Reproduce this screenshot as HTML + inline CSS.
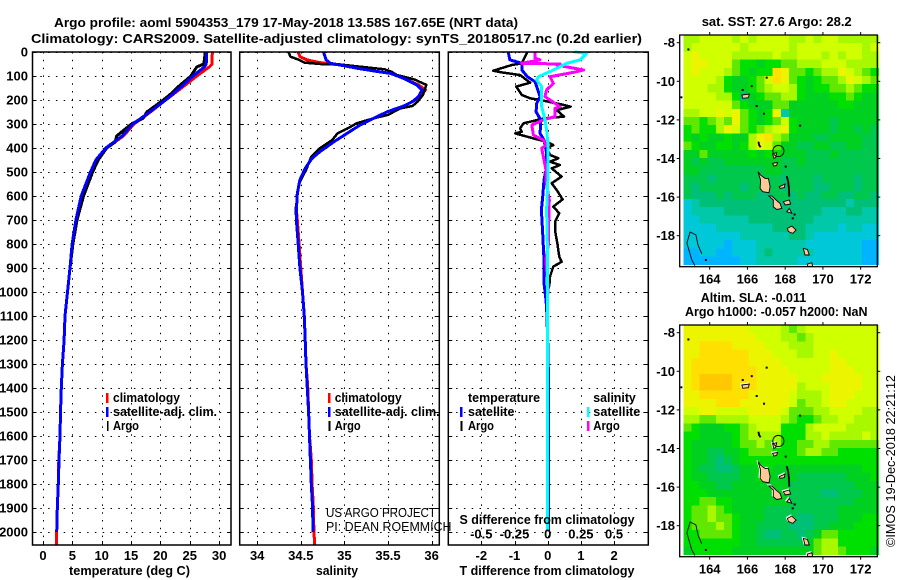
<!DOCTYPE html>
<html>
<head>
<meta charset="utf-8">
<title>Argo profile</title>
<style>
html,body{margin:0;padding:0;background:#fff;}
svg{display:block;}
text{font-family:"Liberation Sans",sans-serif;fill:#000;}
.b{font-weight:bold;font-size:13px;}
.t{font-weight:bold;font-size:13px;}
.thin{font-weight:normal;font-size:12.5px;}
</style>
</head>
<body>
<svg id="chart" xmlns="http://www.w3.org/2000/svg" width="900" height="580" viewBox="0 0 900 580">
<rect x="0" y="0" width="900" height="580" fill="#fff"/>
<g id="map1cells" shape-rendering="crispEdges"></g>
<g id="map2cells" shape-rendering="crispEdges"></g>
<g id="map1geo"></g>
<g id="map2geo"></g>
<g id="grids"></g>
<g id="series" shape-rendering="crispEdges"></g>
<g id="axes"></g>

<text class="t" x="54" y="27" textLength="464" lengthAdjust="spacingAndGlyphs">Argo profile: aoml 5904353_179 17-May-2018 13.58S 167.65E (NRT data)</text>
<text class="t" x="31" y="43" textLength="611" lengthAdjust="spacingAndGlyphs">Climatology: CARS2009. Satellite-adjusted climatology: synTS_20180517.nc (0.2d earlier)</text>

<text class="b" x="69" y="575" textLength="121" lengthAdjust="spacingAndGlyphs">temperature (deg C)</text>
<text class="b" x="316" y="575" textLength="42" lengthAdjust="spacingAndGlyphs">salinity</text>
<text class="b" x="459.5" y="575" textLength="175" lengthAdjust="spacingAndGlyphs">T difference from climatology</text>
<text class="b" x="459.5" y="524" textLength="175" lengthAdjust="spacingAndGlyphs">S difference from climatology</text>

<g>
<rect x="106" y="393" width="2.5" height="10" fill="#f00"/>
<rect x="106" y="407" width="2.5" height="10" fill="#00f"/>
<rect x="107" y="421" width="1.5" height="10" fill="#000"/>
<text class="b" x="113" y="402" textLength="67" lengthAdjust="spacingAndGlyphs">climatology</text>
<text class="b" x="113" y="416" textLength="104" lengthAdjust="spacingAndGlyphs">satellite-adj. clim.</text>
<text class="b" x="113" y="430" textLength="26" lengthAdjust="spacingAndGlyphs">Argo</text>
</g>
<g>
<rect x="328" y="393" width="2.5" height="10" fill="#f00"/>
<rect x="328" y="407" width="2.5" height="10" fill="#00f"/>
<rect x="328.5" y="421" width="2" height="10" fill="#000"/>
<text class="b" x="334.7" y="402" textLength="67" lengthAdjust="spacingAndGlyphs">climatology</text>
<text class="b" x="334.7" y="416" textLength="105" lengthAdjust="spacingAndGlyphs">satellite-adj. clim.</text>
<text class="b" x="334.7" y="430" textLength="26" lengthAdjust="spacingAndGlyphs">Argo</text>
</g>
<g>
<text class="b" x="468" y="402" textLength="72" lengthAdjust="spacingAndGlyphs">temperature</text>
<rect x="460" y="407" width="2.5" height="10" fill="#00f"/>
<text class="b" x="468" y="416" textLength="46.5" lengthAdjust="spacingAndGlyphs">satellite</text>
<rect x="460.5" y="421" width="2" height="10" fill="#000"/>
<text class="b" x="468" y="430" textLength="26" lengthAdjust="spacingAndGlyphs">Argo</text>
<text class="b" x="593.3" y="402" textLength="42.5" lengthAdjust="spacingAndGlyphs">salinity</text>
<rect x="587" y="407" width="2.5" height="10" fill="#0ff"/>
<text class="b" x="593.3" y="416" textLength="47" lengthAdjust="spacingAndGlyphs">satellite</text>
<rect x="587" y="421" width="2.5" height="10" fill="#f0f"/>
<text class="b" x="593.3" y="430" textLength="26.5" lengthAdjust="spacingAndGlyphs">Argo</text>
</g>

<text class="thin" x="326" y="517" textLength="110" lengthAdjust="spacingAndGlyphs">US ARGO PROJECT</text>
<text class="thin" x="326" y="531" textLength="125.5" lengthAdjust="spacingAndGlyphs">PI: DEAN ROEMMICH</text>

<text class="t" x="701.7" y="26" textLength="150" lengthAdjust="spacingAndGlyphs">sat. SST: 27.6 Argo: 28.2</text>
<text class="t" x="700.7" y="302" textLength="105.5" lengthAdjust="spacingAndGlyphs">Altim. SLA: -0.011</text>
<text class="t" x="685" y="316" textLength="182.5" lengthAdjust="spacingAndGlyphs">Argo h1000: -0.057 h2000: NaN</text>
<text class="thin" font-size="13" transform="translate(895,547) rotate(-90)" textLength="172" lengthAdjust="spacingAndGlyphs">©IMOS 19-Dec-2018 22:21:12</text>
</svg>

<script>
/* ---------- profile data ---------- */
const depthTicks = [0,100,200,300,400,500,600,700,800,900,1000,1100,1200,1300,1400,1500,1600,1700,1800,1900,2000];
const tempTicks = [0,5,10,15,20,25,30];
const salTicks = [34,34.5,35,35.5,36];
const tDiffTicks = [-2,-1,0,1,2];
const sDiffTicks = [-0.5,-0.25,0,0.25,0.5];

const tempDepths = [0,50,60,100,150,200,250,300,350,400,450,500,600,700,800,900,1000,1100,1200,1300,1400,1500,1600,1700,1800,1900,2000,2055];
const tempClim = [28.85,28.8,28.45,26.2,23.6,20.9,18.3,15.5,13.7,10.8,9.0,8.1,6.5,5.6,5.0,4.6,4.17,3.75,3.6,3.3,3.12,2.98,2.9,2.7,2.6,2.44,2.33,2.33];
const tempSat = [27.9,27.8,27.6,25.55,23.3,20.9,18.2,15.3,13.5,10.7,9.0,8.1,6.5,5.6,4.95,4.6,4.17,3.75,3.6,3.3,3.12,2.98,2.9,2.73,2.6,2.44,2.33];
const tempArgoDepths = [0,50,62,100,150,175,200,250,275,300,325,350,375,400,450,500,600,700,800,900,1000,1100,1200,1300,1400,1500,1600,1700,1800,1900,2000];
const tempArgo = [27.65,27.4,26.2,25.2,22.8,21.75,20.5,17.7,17.1,15.1,13.8,12.55,12.3,10.85,9.4,8.45,6.9,5.8,5.1,4.6,4.17,3.75,3.6,3.3,3.12,2.98,2.9,2.73,2.6,2.44,2.33];

const salClimDepths = [0,19,33,44,54,68,79,89,110,137,158,186,207,225,249,276,304,339,374,415,443,485,533,589,658,700,800,900,1000,1100,1200,1300,1400,1500,1600,1700,1800,1900,2000,2055];
const salClim = [34.47,34.49,34.57,34.72,34.95,35.15,35.34,35.53,35.68,35.85,35.93,35.87,35.78,35.68,35.49,35.34,35.18,35.03,34.88,34.72,34.63,34.55,34.49,34.46,34.45,34.46,34.48,34.5,34.52,34.54,34.55,34.56,34.58,34.59,34.6,34.62,34.63,34.645,34.65,34.66];
const salSatDepths = [0,33,47,54,68,79,89,110,137,158,186,207,225,249,276,304,339,374,415,443,485,533,589,658,700,800,900,1000,1100,1200,1300,1400,1500,1600,1700,1800,1900,2000];
const salSat = [34.76,34.79,34.84,34.95,35.15,35.34,35.53,35.68,35.83,35.89,35.85,35.78,35.68,35.49,35.34,35.18,35.03,34.88,34.72,34.63,34.55,34.49,34.46,34.45,34.45,34.47,34.49,34.52,34.54,34.55,34.56,34.575,34.59,34.6,34.61,34.62,34.635,34.64];
const salArgoDepths = [0,19,33,44,50,51,58,72,82,96,114,137,179,207,225,235,262,276,297,318,339,367,401,436,492,547,603,658,700,800,900,1000];
const salArgo = [34.36,34.38,34.48,34.54,34.72,34.92,35.1,35.46,35.54,35.6,35.8,35.94,35.9,35.84,35.78,35.64,35.5,35.34,35.14,35.04,34.92,34.86,34.72,34.62,34.56,34.48,34.46,34.44,34.45,34.47,34.49,34.52];

const tSatDepths = [0,33,47,75,103,124,186,214,249,283,339,367,422,492,533,603,658,756,867,964,1033,1075,1200,1400,2000];
const tSatDiff = [-1.19,-1.14,-0.78,-0.78,-0.61,-0.38,-0.23,-0.33,-0.35,-0.21,-0.23,-0.11,-0.03,-0.05,-0.11,-0.15,-0.19,-0.15,-0.11,-0.11,-0.05,-0.03,0,0.03,0.03];
const tArgoDepths = [0,33,47,54,78,85,96,128,144,179,193,200,217,228,242,269,276,297,318,332,339,360,374,388,401,429,443,457,471,485,519,547,575,614,644,672,707,742,797,853,874,894,936,971,1010,1100,2000];
const tArgoDiff = [-0.61,-0.73,-0.78,-1.08,-1.64,-1.39,-0.83,-0.53,-0.95,-0.78,-0.53,-0.23,0.37,0.69,0.27,0.49,-0.08,-0.73,-0.83,-0.78,-0.98,-0.43,-0.03,0.17,-0.03,0.07,0.32,0.07,0.37,0.12,0.42,0.12,0.27,0.45,0.17,0.35,0.22,0.22,0.29,0.35,0.42,0.17,0.07,0.05,-0.03,0,0];
const sSatDepths = [0,6,33,47,75,103,117,144,228,283,325,394,492,589,658,797,936,1075,2000];
const sSatDiff = [0.205,0.293,0.243,0.143,0.043,-0.07,-0.083,-0.045,-0.045,-0.02,-0.008,0.004,0.004,-0.003,-0.008,-0.003,-0.003,0,0];
const sArgoDepths = [0,26,33,47,50,54,75,85,103,131,158,186,214,228,235,269,283,304,346,367,388,401,436,492,533,617,728,797,867,964,1075,2000];
const sArgoDiff = [-0.096,-0.096,-0.058,-0.196,0.092,0.067,0.27,0.193,0.017,0.043,-0.008,-0.02,0.055,0.092,0.055,0.055,-0.033,-0.12,-0.108,-0.033,-0.008,-0.045,-0.033,-0.013,-0.014,0.012,0.007,0.007,-0.014,0.001,0,0];

/* ---------- map data (colour level per cell, hex digit) ---------- */
const lonTicks = [164,166,168,170,172];
const latTicks = [-8,-10,-12,-14,-16,-18];
const sstGrid = [
"889999898999988989988888",
"899999989999989999999989",
"9a9999888889889998989988",
"9aa999766566778889998888",
"9a999876566ba776788a9876",
"99998655679ba7656778a987",
"999886556789986566778766",
"999988635677886555667655",
"999999765557755555566555",
"8899a9a7656a255555555555",
"776787a76567965555455555",
"67668a976789a65555455454",
"656556558ab8755544555544",
"765566568a97554455445544",
"557555556566555444544444",
"545445555555445444444444",
"554444444455444444444444",
"444344444444344434444344",
"434444434444344433444344",
"433343444334434334433443",
"123333333333333333332333",
"122223333333333332223322",
"112222223333333322222222",
"111122222223333222212211",
"111111122222233211111111",
"111110111222222111111100",
"001100111232222211111100",
"000000011222221111111100"
];
const slaGrid = [
"aaaaaaaa9999878999999999",
"aaaaaaaaa999887899999999",
"aabbbbaaaa99988899999999",
"aabbbbbbaaa9998899a99999",
"abbbbbbbaaaa999999aa9999",
"abbbbbbbbaaaa99999aaa999",
"abccccbbbaaaaa999aaaaa99",
"abccccbbbaaaaa8999aaaa99",
"aabbbbbbaaaaa98889aaa999",
"aaaabbbaaaaaa97889aa9999",
"99aa9999aaaa977788999988",
"887788889999876678899888",
"765556678999666899998888",
"665555678888666889888898",
"655555677878667788777777",
"655445567776667887766666",
"655434566666666666666666",
"654433455665555555555566",
"655444455655554444445556",
"665544555555544444444555",
"666555555555544443344455",
"667766555555544444444555",
"677876555544444444455555",
"677877655544443344455566",
"677787655444433344555666",
"667777655433443457766666",
"666666655444444578866666",
"566666555555555578876665"
];
const levelColors = ["#00b4ff","#00c8d8","#00c8a8","#00c078","#00c84c","#00d020","#00e000","#60e800","#a8f800","#d0ff00","#ecf400","#ffe000","#ffc800"];

/* island outlines: lon, lat */
const islandLons = [
 [166.56,166.70,166.67,166.81,167.14,167.2,167.11,166.93,166.7],
 [167.13,167.37,167.37,167.55,167.82,167.73,167.52,167.29],
 [167.69,167.99,167.96,167.73],
 [167.9,168.22,168.29,168.0],
 [168.08,168.22,168.35],
 [168.12,168.35,168.58,168.4,168.17],
 [168.96,169.18,169.28,169.05],
 [169.18,169.41,169.46,169.18],
 [165.7,166.1,166.05,165.75],
 [167.33,167.55,167.5,167.4],
 [167.33,167.6,167.55,167.4]
];
const islandLats = [
 [-14.68,-15.12,-15.55,-15.72,-15.77,-15.46,-15.03,-15.03,-14.86],
 [-15.94,-16.15,-16.5,-16.64,-16.59,-16.33,-16.15,-15.94],
 [-15.46,-15.32,-15.51,-15.55],
 [-16.24,-16.15,-16.36,-16.41],
 [-16.76,-16.58,-16.84],
 [-17.62,-17.5,-17.71,-17.88,-17.79],
 [-18.66,-18.71,-19,-19],
 [-19.47,-19.4,-19.6,-19.6],
 [-10.71,-10.66,-10.85,-10.88],
 [-13.75,-13.7,-13.95,-14.0],
 [-14.25,-14.2,-14.35,-14.4]
];
const coastLons = [
 [163.58,163.38,163.27,162.96,162.79,163.05,163.22],
 [168.08,168.16,168.2,168.22],
 [166.58,166.62,166.7]
];
const coastLats = [
 [-18.94,-18.48,-17.96,-17.81,-18.38,-19.26,-19.55],
 [-14.91,-15.2,-15.6,-15.98],
 [-13.13,-13.3,-13.42]
];
const dotLons = [166.23,167.02,166.49,166.88,168.79,168.03,168.4,168.5,162.87,162.5,163.8,165.75];
const dotLats = [-10.25,-9.81,-11.28,-11.68,-12.3,-14.42,-17.1,-16.9,-8.35,-10.83,-19.26,-10.45];
const profileLon = 167.64;
const profileLat = -13.61;

/* ---------- axis functions ---------- */
const NS = "http://www.w3.org/2000/svg";
const PANEL_TOP = 52, PANEL_BOTTOM = 545;
const yDepth = d => 52 + d * 0.24;
const xTemp = v => 43 + v * 5.87;
const xSal = v => 257.2 + (v - 34) * 87.2;
const xTDiff = v => 547.7 + v * 33.2;
const xSDiff = v => 547.7 + v * 132.8;
const xLon = lon => 709.7 + (lon - 164) * 18.87;
const yLat = (lat, y8) => y8 + (-8 - lat) * 19.3;

function add(parent, tag, attrs, text) {
  const el = document.createElementNS(NS, tag);
  for (const k in attrs) el.setAttribute(k, attrs[k]);
  if (text !== undefined) el.textContent = text;
  parent.appendChild(el);
  return el;
}

const gridsG = document.getElementById("grids");
const seriesG = document.getElementById("series");
const axesG = document.getElementById("axes");

/* ---------- profile panels ---------- */
function panel(left, right, name, ticks, xf) {
  depthTicks.forEach(d => {
    const y = Math.round(yDepth(d)) + 0.5;
    const g = add(gridsG, "line", {x1:left, x2:right, y1:y, y2:y, stroke:"#000", "stroke-width":1, "stroke-dasharray":"1.5 6.3"});
    
    
    const t = add(axesG, "line", {x1:left, x2:left+4, y1:y, y2:y, stroke:"#000", "stroke-width":1});
    
    
    const t2 = add(axesG, "line", {x1:right-4, x2:right, y1:y, y2:y, stroke:"#000", "stroke-width":1});
    
    
  });
  ticks.forEach(v => {
    const x = Math.round(xf(v)) + 0.5;
    const g = add(gridsG, "line", {x1:x, x2:x, y1:PANEL_TOP, y2:PANEL_BOTTOM, stroke:"#000", "stroke-width":1, "stroke-dasharray":"1.5 6.3"});
    
    
    const t = add(axesG, "line", {x1:x, x2:x, y1:PANEL_BOTTOM-4, y2:PANEL_BOTTOM, stroke:"#000", "stroke-width":1});
    
    
  });
  const fr = add(axesG, "rect", {x:left, y:PANEL_TOP, width:right-left, height:PANEL_BOTTOM-PANEL_TOP, fill:"none", stroke:"#000", "stroke-width":1.5});
  
  
}
panel(32.5, 231, "temperature-panel-frame", tempTicks, xTemp);
panel(239.7, 439.3, "salinity-panel-frame", salTicks, xSal);
panel(448.3, 648.3, "difference-panel-frame", tDiffTicks, xTDiff);

depthTicks.forEach(d => {
  const l = add(axesG, "text", {x:28, y:yDepth(d)+4.5, "text-anchor":"end", class:"b"}, String(d));
  
  
});
tempTicks.forEach(v => {
  const l = add(axesG, "text", {x:xTemp(v), y:560, "text-anchor":"middle", class:"b"}, String(v));
  
  
});
salTicks.forEach(v => {
  const l = add(axesG, "text", {x:xSal(v), y:560, "text-anchor":"middle", class:"b"}, String(v));
  
  
});
tDiffTicks.forEach(v => {
  const l = add(axesG, "text", {x:xTDiff(v), y:560, "text-anchor":"middle", class:"b"}, String(v));
  
  
});
sDiffTicks.forEach(v => {
  const l = add(axesG, "text", {x:xSDiff(v), y:538.5, "text-anchor":"middle", class:"b"}, String(v));
  
  
});

function drawLine(name, depths, values, xf, color, width) {
  const pts = values.map((v, i) => xf(v).toFixed(1) + "," + yDepth(depths[i]).toFixed(1)).join(" ");
  const el = add(seriesG, "polyline", {points:pts, fill:"none", stroke:color, "stroke-width":width, "stroke-linejoin":"round"});
  
  
}
drawLine("temperature-climatology-line", tempDepths, tempClim, xTemp, "#f00", 3);
drawLine("temperature-argo-line", tempArgoDepths, tempArgo, xTemp, "#000", 3);
drawLine("temperature-satellite-line", tempDepths, tempSat, xTemp, "#00f", 3);
drawLine("salinity-climatology-line", salClimDepths, salClim, xSal, "#f00", 3);
drawLine("salinity-argo-line", salArgoDepths, salArgo, xSal, "#000", 2.5);
drawLine("salinity-satellite-line", salSatDepths, salSat, xSal, "#00f", 3);
drawLine("t-difference-argo-line", tArgoDepths, tArgoDiff, xTDiff, "#000", 2.5);
drawLine("t-difference-satellite-line", tSatDepths, tSatDiff, xTDiff, "#00f", 3);
drawLine("s-difference-argo-line", sArgoDepths, sArgoDiff, xSDiff, "#f0f", 3);
drawLine("s-difference-satellite-line", sSatDepths, sSatDiff, xSDiff, "#0ff", 3);

/* ---------- maps ---------- */
const CELL_LON0 = 162.6, CELL_LAT0 = -7.6, CELL_DLON = 0.431, CELL_DLAT = 0.425;

function drawCells(target, grid, y8, name) {
  grid.forEach((row, r) => {
    for (let c = 0; c < row.length; c++) {
      const x0 = xLon(CELL_LON0 + c * CELL_DLON), x1 = xLon(CELL_LON0 + (c + 1) * CELL_DLON);
      const y0 = yLat(CELL_LAT0 - r * CELL_DLAT, y8), y1 = yLat(CELL_LAT0 - (r + 1) * CELL_DLAT, y8);
      const cell = add(target, "rect", {x:x0.toFixed(2), y:y0.toFixed(2), width:(x1-x0+0.4).toFixed(2), height:(y1-y0+0.4).toFixed(2), fill:levelColors[parseInt(row[c], 16)]});
      
      
    }
  });
}
drawCells(document.getElementById("map1cells"), sstGrid, 42.7, "sst-cell");
drawCells(document.getElementById("map2cells"), slaGrid, 332.7, "sla-cell");

function drawGeo(target, y8, white) {
  islandLons.forEach((lons, i) => {
    const pts = lons.map((lon, j) => xLon(lon).toFixed(1) + "," + yLat(islandLats[i][j], y8).toFixed(1)).join(" ");
    if (white) {
      const w = add(target, "polygon", {points:pts, fill:"#fff", stroke:"#fff", "stroke-width":1, transform:"translate(-1,-1)"});
      
      
    }
    const p = add(target, "polygon", {points:pts, fill:"#ffc896", stroke:"#000", "stroke-width":0.9});
    
    
  });
  coastLons.forEach((lons, i) => {
    const pts = lons.map((lon, j) => xLon(lon).toFixed(1) + "," + yLat(coastLats[i][j], y8).toFixed(1)).join(" ");
    const p = add(target, "polyline", {points:pts, fill:"none", stroke:"#000", "stroke-width":i === 0 ? 0.9 : 1.8});
    
    
  });
  dotLons.forEach((lon, i) => {
    const d = add(target, "rect", {x:xLon(lon)-1, y:yLat(dotLats[i], y8)-1, width:2, height:2, fill:"#000"});
    
    
  });
  const c = add(target, "circle", {cx:xLon(profileLon), cy:yLat(profileLat, y8), r:5.6, fill:"none", stroke:"#000", "stroke-width":0.9});
  
  
}
drawGeo(document.getElementById("map1geo"), 42.7, false);
drawGeo(document.getElementById("map2geo"), 332.7, true);

function mapFrame(top, bottom, y8, labelY, name) {
  const fr = add(axesG, "rect", {x:679.7, y:top, width:197.6, height:bottom-top, fill:"none", stroke:"#000", "stroke-width":1.3});
  
  
  lonTicks.forEach(lon => {
    const x = xLon(lon);
    const t = add(axesG, "line", {x1:x, x2:x, y1:top-3, y2:top, stroke:"#000", "stroke-width":1});
    
    
    const b = add(axesG, "line", {x1:x, x2:x, y1:bottom, y2:bottom+3, stroke:"#000", "stroke-width":1});
    
    
    const l = add(axesG, "text", {x:x, y:labelY, "text-anchor":"middle", class:"b"}, String(lon));
    
    
  });
  latTicks.forEach(lat => {
    const y = yLat(lat, y8);
    const t = add(axesG, "line", {x1:676.7, x2:679.7, y1:y, y2:y, stroke:"#000", "stroke-width":1});
    
    
    const r = add(axesG, "line", {x1:877.3, x2:880.3, y1:y, y2:y, stroke:"#000", "stroke-width":1});
    
    
    const l = add(axesG, "text", {x:675, y:y+4.5, "text-anchor":"end", class:"b"}, String(lat));
    
    
  });
}
mapFrame(35, 266.7, 42.7, 283.5, "sst-map-frame");
mapFrame(325, 556.7, 332.7, 573.5, "sla-map-frame");
</script>
</body>
</html>
